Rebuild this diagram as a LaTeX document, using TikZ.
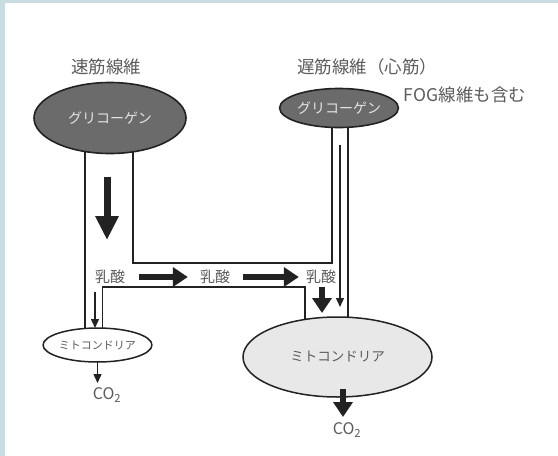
\documentclass[tikz,border=0pt]{standalone}
\usepackage{fontspec}
\newfontfamily\jp{Noto Sans CJK JP}
\usetikzlibrary{arrows.meta,shapes.geometric}
\definecolor{framecol}{HTML}{C9DCE2}
\definecolor{txt}{HTML}{5C5C5C}
\definecolor{ink}{HTML}{222222}
\definecolor{glyfill}{HTML}{6B6B6B}
\definecolor{mitofill}{HTML}{E8E8E8}
\pgfdeclarelayer{bg}
\pgfdeclarelayer{lines}
\pgfsetlayers{bg,lines,main}
\begin{document}
\begin{tikzpicture}[x=1pt,y=-1pt,
  lbl/.style={font=\jp\fontsize{17.5}{18}\selectfont, text=txt, inner sep=0},
  lac/.style={font=\jp\fontsize{15}{15}\selectfont, text=txt, inner sep=0},
  coo/.style={font=\jp\fontsize{16}{16}\selectfont, text=txt, inner sep=0},
  glyco/.style={ellipse, draw=ink, line width=1.6pt, fill=glyfill, inner sep=0,
    text=white!90!black, font=\jp\fontsize{14}{14}\selectfont},
  mito/.style={ellipse, draw=ink, line width=1.5pt, inner sep=0, text=txt},
  conn/.style={draw=ink, line width=1.2pt},
  thinarr/.style={draw=ink, line width=1.4pt, -{Triangle[length=9pt,width=8pt]}},
  thickarr/.style={draw=ink, line width=6.5pt, -{Triangle[length=15pt,width=19pt]}},
  bigarr/.style={draw=ink, line width=7pt, -{Triangle[length=24pt,width=22pt]}}
]
\useasboundingbox (0,0) rectangle (558,456);
\begin{pgfonlayer}{bg}
  \fill[framecol] (0,0) rectangle (558,456);
  \fill[white] (5,3) rectangle (558,456);
\end{pgfonlayer}

% titles
\node[lbl] (t1) at (106,67) {速筋線維};
\node[lbl] (t2) at (367,67) {遅筋線維（心筋）};
\node[lbl] (t3) at (465,95) {FOG線維も含む};

% ellipses
\node[glyco, minimum width=152pt, minimum height=71pt] (lg) at (110,118) {グリコーゲン};
\node[glyco, minimum width=108pt, minimum height=39pt] (rg) at (339,108) {グリコーゲン};
\node[mito, fill=white, minimum width=89pt, minimum height=34pt,
      font=\jp\fontsize{11}{11}\selectfont] (sm) at (97.5,345) {ミトコンドリア};
\node[mito, fill=mitofill, minimum width=189pt, minimum height=80pt,
      font=\jp\fontsize{13.5}{13.5}\selectfont] (bm) at (337.5,357) {ミトコンドリア};

% lactate labels
\node[lac] (l1) at (110,277) {乳酸};
\node[lac] (l2) at (215,277) {乳酸};
\node[lac] (l3) at (321,277) {乳酸};

% CO2
\node[coo] (c1) at (107,395) {CO\textsubscript{2}};
\node[coo] (c2) at (347,430) {CO\textsubscript{2}};

% connector lines (behind ellipses)
\begin{pgfonlayer}{lines}
  \draw[conn] ([xshift=-25pt]lg.center) -- ([xshift=-12.5pt]sm.center);
  \draw[conn] ([xshift=23pt]lg.center) -- ++(0,145) -| ([xshift=-7pt]rg.center);
  \draw[conn] ([xshift=9pt]rg.center) -- ([xshift=10.5pt]bm.center);
  \draw[conn] ([xshift=5pt]sm.center) -- ++(0,-58) -| ([xshift=-32.5pt]bm.center);
\end{pgfonlayer}

% arrow coordinates
\coordinate (ba1) at (107,177);
\coordinate (ba2) at (107,240);
\coordinate (ta1) at (95,292);
\coordinate (ta2) at (95,328);
\coordinate (tb1) at (340,145);
\coordinate (tb2) at (340,307);
\coordinate (da1) at (322,287);
\coordinate (da2) at (322,313);
\coordinate (ca1) at (343,389);
\coordinate (ca2) at (343,417);
\coordinate (sa1) at (97.5,361);
\coordinate (sa2) at (97.5,383);

% arrows
\draw[bigarr] (ba1) -- (ba2);
\draw[thinarr] (ta1) -- (ta2);
\draw[thinarr] (tb1) -- (tb2);
\draw[thickarr] ([xshift=14pt]l1.east) -- ([xshift=-12pt]l2.west);
\draw[thickarr] ([xshift=13pt]l2.east) -- ([xshift=-7pt]l3.west);
\draw[thickarr] (da1) -- (da2);
\draw[thinarr] (sa1) -- (sa2);
\draw[thickarr] (ca1) -- (ca2);
\end{tikzpicture}
\end{document}
